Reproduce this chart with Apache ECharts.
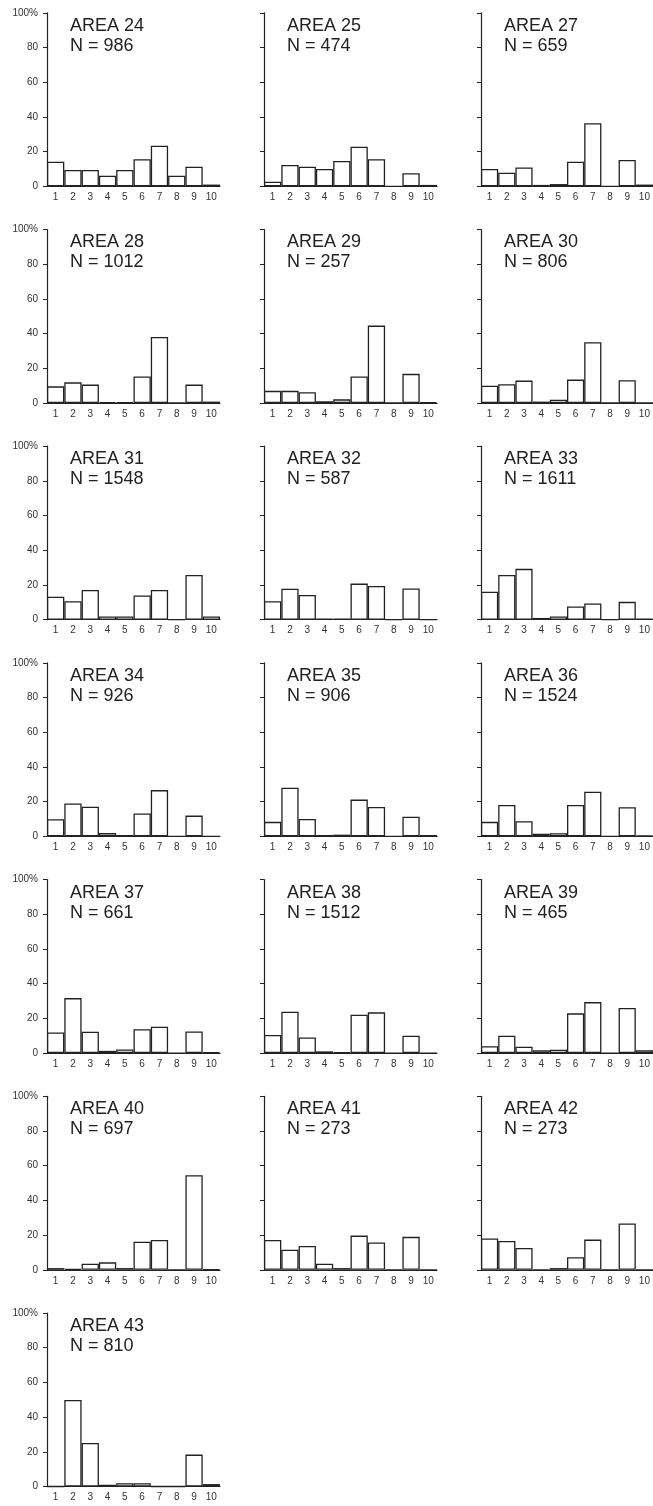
<!DOCTYPE html>
<html>
<head>
<meta charset="utf-8">
<script src="https://cdn.jsdelivr.net/npm/echarts@6/dist/echarts.min.js"></script>
<style>
  html, body { margin: 0; padding: 0; background: #fff; }
  #chart { width: 653px; height: 1506px; }
</style>
</head>
<body>
<div id="chart"></div>
<script>
// size classes on the x axis
const classes = ['1', '2', '3', '4', '5', '6', '7', '8', '9', '10']
const yTicks = ['0', '20', '40', '60', '80', '100%']

const areaLabels = ['AREA 24', 'AREA 25', 'AREA 27', 'AREA 28', 'AREA 29', 'AREA 30', 'AREA 31',
  'AREA 32', 'AREA 33', 'AREA 34', 'AREA 35', 'AREA 36', 'AREA 37', 'AREA 38', 'AREA 39',
  'AREA 40', 'AREA 41', 'AREA 42', 'AREA 43']
const areaN = [986, 474, 659, 1012, 257, 806, 1548, 587, 1611, 926, 906, 1524, 661, 1512, 465,
  697, 273, 273, 810]

// percent per class
const pct24 = [14.2, 9.4, 9.4, 6.1, 9.4, 15.6, 23.4, 6.1, 11.3, 1.0]
const pct25 = [2.6, 12.3, 11.3, 10.0, 14.6, 22.8, 15.6, 0, 7.5, 0.8]
const pct27 = [10.0, 7.8, 10.9, 0.8, 1.3, 14.2, 36.3, 0, 15.2, 1.0]
const pct28 = [9.6, 11.9, 10.6, 0.5, 0.5, 15.3, 38.0, 0, 10.6, 0.8]
const pct29 = [7.0, 7.0, 6.2, 1.0, 2.1, 15.3, 44.6, 0, 16.8, 0.5]
const pct30 = [10.0, 10.8, 12.9, 0.8, 1.9, 13.5, 35.0, 0, 13.1, 0]
const pct31 = [13.2, 10.7, 17.1, 1.9, 1.9, 14.0, 17.1, 0, 25.8, 1.9]
const pct32 = [10.7, 17.9, 14.2, 0.5, 0.5, 20.8, 19.4, 0, 18.0, 0]
const pct33 = [16.1, 25.8, 29.3, 1.0, 1.9, 7.6, 9.3, 0, 10.3, 0.5]
const pct34 = [9.9, 19.0, 17.1, 1.9, 0.8, 13.2, 26.7, 0, 12.0, 0]
const pct35 = [8.4, 28.0, 10.1, 0.8, 1.0, 21.2, 17.0, 0, 11.3, 0.8]
const pct36 = [8.4, 18.1, 8.8, 1.5, 1.8, 18.1, 25.7, 0, 16.8, 0.5]
const pct37 = [11.9, 31.7, 12.3, 1.3, 2.1, 13.8, 15.2, 0, 12.5, 0.5]
const pct38 = [10.4, 23.8, 9.0, 1.0, 0.5, 22.1, 23.5, 0, 10.0, 0]
const pct39 = [4.0, 10.0, 3.7, 1.7, 1.9, 22.9, 29.4, 0, 26.0, 1.7]
const pct40 = [1.0, 0.6, 3.5, 4.3, 1.0, 16.2, 17.2, 0, 54.5, 0.3]
const pct41 = [17.2, 11.6, 13.7, 3.5, 1.0, 19.7, 15.7, 0, 19.0, 0]
const pct42 = [18.0, 16.6, 12.6, 0, 1.0, 7.2, 17.4, 0, 26.7, 0]
const pct43 = [0, 49.9, 25.1, 1.0, 1.9, 1.9, 0, 0, 18.4, 1.4]

const pcts = [pct24, pct25, pct27, pct28, pct29, pct30, pct31, pct32, pct33, pct34,
  pct35, pct36, pct37, pct38, pct39, pct40, pct41, pct42, pct43]

const FONT = '"Liberation Sans", Arial, sans-serif'
const INK = '#222'

const grids = []
const xAxes = []
const yAxes = []
const series = []
const titles = []

pcts.forEach((vals, i) => {
  const col = i % 3
  const row = Math.floor(i / 3)
  const left = 47 + col * 217
  const zeroY = 186.3 + row * 216.7
  const h = 173.5
  grids.push({ left: left, top: zeroY - h, width: 173, height: h })
  xAxes.push({
    type: 'category',
    gridIndex: i,
    data: classes,
    boundaryGap: true,
    axisLine: { show: true, lineStyle: { color: INK, width: 1.2 } },
    axisTick: { show: false },
    axisLabel: { color: '#333', fontSize: 10, fontFamily: FONT, margin: 6, interval: 0 },
  })
  yAxes.push({
    type: 'value',
    gridIndex: i,
    min: 0,
    max: 100,
    interval: 20,
    splitLine: { show: false },
    axisLine: { show: true, lineStyle: { color: INK, width: 1.2 } },
    axisTick: { show: true, length: 4, lineStyle: { color: INK } },
    axisLabel: {
      show: col === 0,
      color: '#333',
      fontSize: 10,
      fontFamily: FONT,
      margin: 9,
      formatter: (v) => yTicks[Math.round(v / 20)],
    },
  })
  series.push({
    type: 'bar',
    xAxisIndex: i,
    yAxisIndex: i,
    data: vals,
    barCategoryGap: '0%',
    silent: true,
    itemStyle: { color: '#fff', borderColor: INK, borderWidth: 1.3 },
  })
  titles.push({
    text: areaLabels[i] + '\nN = ' + areaN[i],
    left: left + 18,
    top: zeroY - h - 2,
    textStyle: { color: INK, fontSize: 18, fontWeight: 'normal', fontFamily: FONT, lineHeight: 20 },
  })
})

const chart = echarts.init(document.getElementById('chart'))
chart.setOption({
  animation: false,
  backgroundColor: '#fff',
  title: titles,
  grid: grids,
  xAxis: xAxes,
  yAxis: yAxes,
  series: series,
})
</script>
</body>
</html>
